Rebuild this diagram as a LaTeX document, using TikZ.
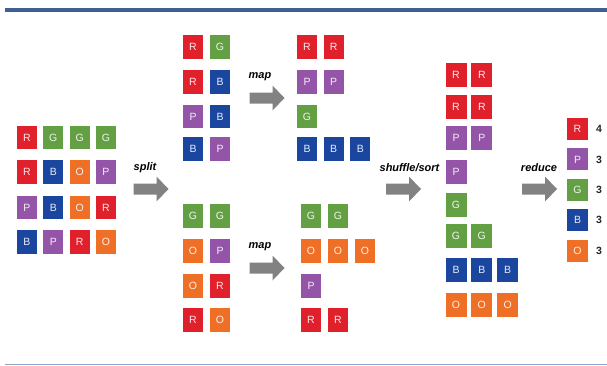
\documentclass[tikz,border=0pt]{standalone}
\usepackage{fontspec}
\setmainfont{Liberation Sans}
\definecolor{colR}{HTML}{E0202A}
\definecolor{colG}{HTML}{62A043}
\definecolor{colB}{HTML}{1A46A0}
\definecolor{colO}{HTML}{EE6F25}
\definecolor{colP}{HTML}{9455A8}
\definecolor{arrowgray}{HTML}{828282}
\definecolor{topline}{HTML}{3F5F95}
\definecolor{botline}{HTML}{8AA4D0}
\tikzset{
  sq/.style={fill=col#1, text=white, text opacity=0.9, inner sep=0pt,
    minimum width=20pt, minimum height=23.5pt, font=\fontsize{10.5}{12}\selectfont},
  sqr/.style={sq=#1, minimum width=21pt, minimum height=22pt},
  bigarrow/.pic={\fill[arrowgray] (-17.5,-5.5) -- (5.5,-5.5) -- (5.5,-12.5) -- (17.5,0)
     -- (5.5,12.5) -- (5.5,5.5) -- (-17.5,5.5) -- cycle;},
  steplabel/.style={font=\fontsize{11}{13}\selectfont\bfseries\itshape, inner sep=0pt},
  countlabel/.style={font=\fontsize{10.5}{12}\selectfont\bfseries, text=black!85, inner sep=0pt}
}
\begin{document}
\begin{tikzpicture}[x=1pt,y=-1pt]
\useasboundingbox (0,0) rectangle (607,365);
% frame lines
\coordinate (tl) at (5,10); \coordinate (tr) at (607,10);
\draw[topline, line width=3.5pt] (tl) -- (tr);
\coordinate (bl) at (5,364); \coordinate (br) at (607,364);
\draw[botline, line width=1pt] (bl) -- (br);

% input grid
\foreach \L [count=\c] in {R,G,G,G} \node[sq=\L] (in-1-\c) at ({27+26.3*(\c-1)},137.5) {\L};
\foreach \L [count=\c] in {R,B,O,P} \node[sq=\L] (in-2-\c) at ({27+26.3*(\c-1)},172) {\L};
\foreach \L [count=\c] in {P,B,O,R} \node[sq=\L] (in-3-\c) at ({27+26.3*(\c-1)},207.5) {\L};
\foreach \L [count=\c] in {B,P,R,O} \node[sq=\L] (in-4-\c) at ({27+26.3*(\c-1)},242) {\L};

% split
\pic (splitarrow) at (151,189) {bigarrow};
\node[steplabel] (splitlabel) at (145,168) {split};

% upper split
\foreach \L [count=\c] in {R,G} \node[sq=\L] (ua-1-\c) at ({193+27*(\c-1)},47) {\L};
\foreach \L [count=\c] in {R,B} \node[sq=\L] (ua-2-\c) at ({193+27*(\c-1)},82) {\L};
\foreach \L [count=\c] in {P,B} \node[sq=\L] (ua-3-\c) at ({193+27*(\c-1)},116.5) {\L};
\foreach \L [count=\c] in {B,P} \node[sq=\L] (ua-4-\c) at ({193+27*(\c-1)},149) {\L};

% lower split
\foreach \L [count=\c] in {G,G} \node[sq=\L] (la-1-\c) at ({193+27*(\c-1)},216) {\L};
\foreach \L [count=\c] in {O,P} \node[sq=\L] (la-2-\c) at ({193+27*(\c-1)},251) {\L};
\foreach \L [count=\c] in {O,R} \node[sq=\L] (la-3-\c) at ({193+27*(\c-1)},286) {\L};
\foreach \L [count=\c] in {R,O} \node[sq=\L] (la-4-\c) at ({193+27*(\c-1)},320) {\L};

% map arrows
\pic (maparrowu) at (267,98) {bigarrow};
\node[steplabel] (maplabelu) at (260,77) {map};
\pic (maparrowl) at (267,268) {bigarrow};
\node[steplabel] (maplabell) at (260,247) {map};

% upper map output
\foreach \L [count=\c] in {R,R} \node[sq=\L] (ub-1-\c) at ({307+26.7*(\c-1)},47) {\L};
\foreach \L [count=\c] in {P,P} \node[sq=\L] (ub-2-\c) at ({307+26.7*(\c-1)},82) {\L};
\foreach \L [count=\c] in {G} \node[sq=\L] (ub-3-\c) at ({307+26.7*(\c-1)},116.5) {\L};
\foreach \L [count=\c] in {B,B,B} \node[sq=\L] (ub-4-\c) at ({307+26.7*(\c-1)},149) {\L};

% lower map output
\foreach \L [count=\c] in {G,G} \node[sq=\L] (lb-1-\c) at ({311+27*(\c-1)},216) {\L};
\foreach \L [count=\c] in {O,O,O} \node[sq=\L] (lb-2-\c) at ({311+27*(\c-1)},251) {\L};
\foreach \L [count=\c] in {P} \node[sq=\L] (lb-3-\c) at ({311+27*(\c-1)},286) {\L};
\foreach \L [count=\c] in {R,R} \node[sq=\L] (lb-4-\c) at ({311+27*(\c-1)},320) {\L};

% shuffle
\pic (shufarrow) at (403.5,189) {bigarrow};
\node[steplabel] (shuflabel) at (409.5,168) {shuffle/sort};

\foreach \L [count=\c] in {R,R} \node[sq=\L, minimum width=21pt] (sh-1-\c) at ({456+25.8*(\c-1)},75) {\L};
\foreach \L [count=\c] in {R,R} \node[sq=\L, minimum width=21pt] (sh-2-\c) at ({456+25.8*(\c-1)},107) {\L};
\foreach \L [count=\c] in {P,P} \node[sq=\L, minimum width=21pt] (sh-3-\c) at ({456+25.8*(\c-1)},138) {\L};
\foreach \L [count=\c] in {P} \node[sq=\L, minimum width=21pt] (sh-4-\c) at ({456+25.8*(\c-1)},172) {\L};
\foreach \L [count=\c] in {G} \node[sq=\L, minimum width=21pt] (sh-5-\c) at ({456+25.8*(\c-1)},205) {\L};
\foreach \L [count=\c] in {G,G} \node[sq=\L, minimum width=21pt] (sh-6-\c) at ({456+25.8*(\c-1)},236) {\L};
\foreach \L [count=\c] in {B,B,B} \node[sq=\L, minimum width=21pt] (sh-7-\c) at ({456+25.8*(\c-1)},270) {\L};
\foreach \L [count=\c] in {O,O,O} \node[sq=\L, minimum width=21pt] (sh-8-\c) at ({456+25.8*(\c-1)},305) {\L};

% reduce
\pic (redarrow) at (539.5,189) {bigarrow};
\node[steplabel] (redlabel) at (539,168) {reduce};

\foreach \L/\n [count=\r] in {R/4,P/3,G/3,B/3,O/3} {
  \node[sqr=\L] (rd-\r) at (577.5,{129+30.4*(\r-1)}) {\L};
  \node[countlabel, anchor=west] (cnt-\r) at (596,{129+30.4*(\r-1)}) {\n};
}
\end{tikzpicture}
\end{document}
